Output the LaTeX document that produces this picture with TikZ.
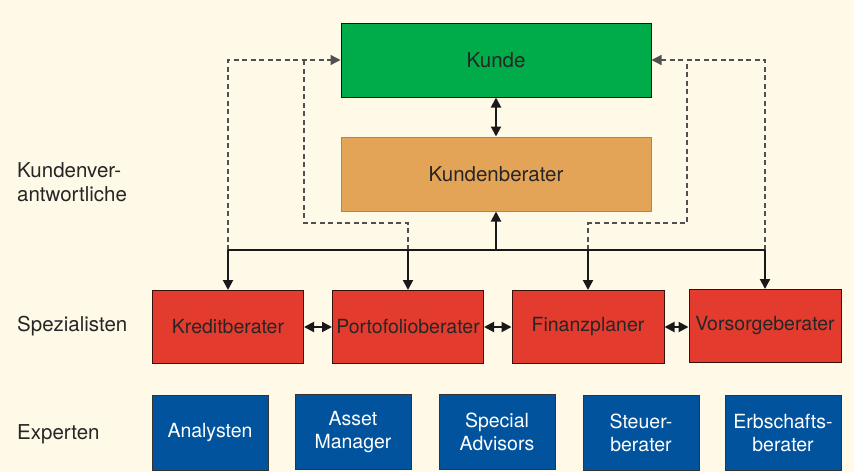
\documentclass[tikz,border=0pt]{standalone}
\usepackage{fontspec}
\setmainfont{TeX Gyre Heros}
\usetikzlibrary{arrows.meta}
\definecolor{bg}{HTML}{FFF9E7}
\definecolor{kgreen}{HTML}{00AB4A}
\definecolor{korange}{HTML}{E4A458}
\definecolor{kred}{HTML}{E33C2E}
\definecolor{kblue}{HTML}{00539C}
\definecolor{dashgrey}{HTML}{505050}
\tikzset{
  box/.style={rectangle, draw, line width=1pt, inner sep=0pt, align=center,
    font=\fontsize{19.5}{23}\selectfont},
  toplevel/.style={box, minimum width=310pt, minimum height=74pt, font=\fontsize{20.5}{24}\selectfont},
  redbox/.style={box, fill=kred, draw=black!75!kred, text=black!85, minimum width=151pt, minimum height=73pt},
  bluebox/.style={box, fill=kblue, draw=black!80, text=white, minimum width=116pt, minimum height=75pt},
  lbl/.style={anchor=west, align=left, text=black!85, font=\fontsize{20.5}{23.5}\selectfont, inner sep=0pt},
  solidline/.style={line width=2pt, black!90},
  tipp/.style={-{Triangle[length=10pt,width=10pt]}},
  dtipp/.style={{Triangle[length=10pt,width=10pt]}-{Triangle[length=10pt,width=10pt]}},
  dashline/.style={line width=1.3pt, dashgrey, dash pattern=on 5pt off 3.5pt},
}
\begin{document}
\begin{tikzpicture}[x=1pt,y=-1pt]
\fill[bg] (0,0) rectangle (854,472);
\useasboundingbox (0,0) rectangle (854,472);

\node[toplevel, fill=kgreen, draw=black!80!kgreen, text=black!85] (kunde) at (496,60) {Kunde};
\node[toplevel, fill=korange, draw=black!45, text=black!85] (kberater) at (496,174) {Kundenberater};

\node[redbox] (kredit) at (228,327) {Kreditberater};
\node[redbox] (porto) at (408,327) {Portofolioberater};
\node[redbox, minimum width=152pt] (finanz) at (588,327) {Finanzplaner};
\node[redbox, minimum width=152pt] (vorsorge) at (765,326) {Vorsorgeberater};

\node[bluebox] (analysten) at (210,433) {Analysten};
\node[bluebox] (asset) at (353,432) {Asset\\Manager};
\node[bluebox] (special) at (497,432) {Special\\Advisors};
\node[bluebox] (steuer) at (641,433) {Steuer-\\berater};
\node[bluebox] (erb) at (783,433) {Erbschafts-\\berater};

\node[lbl] (lkv) at (17,182) {Kundenver-\\antwortliche};
\node[lbl] (lsp) at (17,326) {Spezialisten};
\node[lbl] (lex) at (17,434) {Experten};

% bus coordinates
\coordinate (busK) at (kredit.north |- 0,250);
\coordinate (busP) at (porto.north |- 0,250);
\coordinate (busM) at (kberater.south |- 0,250);
\coordinate (busF) at (finanz.north |- 0,250);
\coordinate (busV) at (vorsorge.north |- 0,250);

% dashed feedback lines
\coordinate (pL1) at (busP |- 0,223);
\coordinate (pL2) at (304,223);
\coordinate (pL3) at (pL2 |- kunde.west);
\coordinate (fR1) at (busF |- 0,223);
\coordinate (fR2) at (687,223);
\coordinate (fR3) at (fR2 |- kunde.east);
\draw[dashline, tipp] (busK) -- (busK |- kunde.west) -- (kunde.west);
\draw[dashline] (busP) -- (pL1) -- (pL2) -- (pL3);
\draw[dashline, tipp] (busV) -- (busV |- kunde.east) -- (kunde.east);
\draw[dashline] (busF) -- (fR1) -- (fR2) -- (fR3);

% solid bus
\draw[solidline] (busK) -- (busV);
\draw[solidline, tipp] (busM) -- (kberater.south);
\draw[solidline, tipp] (busK) -- (kredit.north);
\draw[solidline, tipp] (busP) -- (porto.north);
\draw[solidline, tipp] (busF) -- (finanz.north);
\draw[solidline, tipp] (busV) -- (vorsorge.north);

\draw[solidline, dtipp] (kunde.south) -- (kberater.north);

\draw[solidline, dtipp] (kredit.east) -- (porto.west);
\draw[solidline, dtipp] (porto.east) -- (porto.east -| finanz.west);
\draw[solidline, dtipp] (finanz.east) -- (finanz.east -| vorsorge.west);
\end{tikzpicture}
\end{document}
